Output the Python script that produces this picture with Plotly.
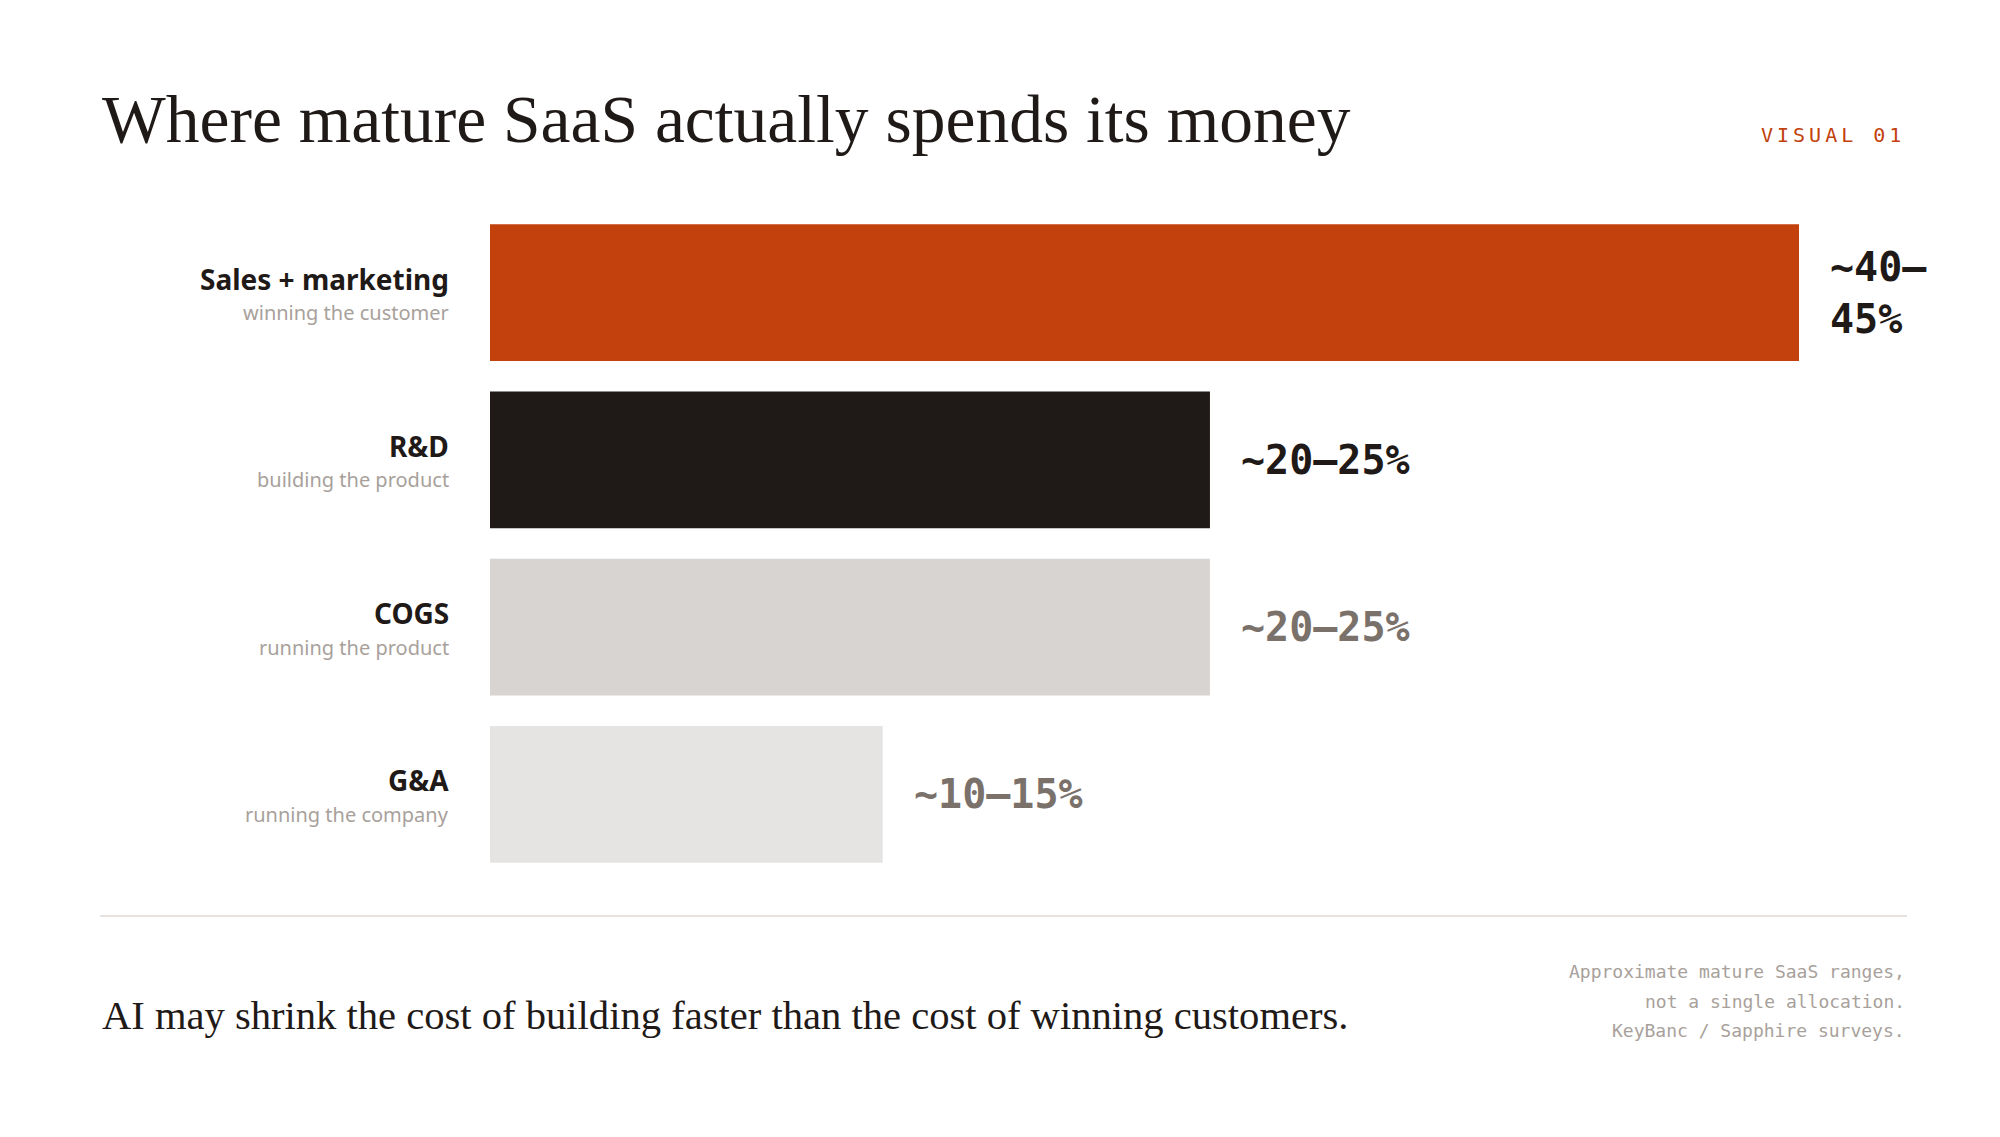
import plotly.graph_objects as go

# data
categories = ["Sales + marketing", "R&D", "COGS", "G&A"]
subtitles = ["winning the customer", "building the product", "running the product", "running the company"]
bar_length = [100, 55, 55, 30]  # relative bar width, sales = 100
value_labels = ["~40–<br>45%", "~20–25%", "~20–25%", "~10–15%"]
footnote_lines = ["Approximate mature SaaS ranges,", "not a single allocation.", "KeyBanc / Sapphire surveys."]

bar_colors = ["#c2410c", "#1f1a17", "#d8d4d1", "#e5e4e2"]
value_colors = ["#1f1a17", "#1f1a17", "#7a716b", "#7a716b"]

# page is 2000x1137, the plot div sits at the body's 8px margin
PAD = 8
W, H = 2000 - 2 * PAD, 1137 - 2 * PAD
INK = "#1f1a17"
MUTED = "#a8a19b"
SERIF = "Liberation Serif"
SANS = "Noto Sans"
MONO = "DejaVu Sans Mono"


def px_x(p):
    # page pixel from left -> paper x
    return (p - PAD) / W


def px_y(p):
    # page pixel from top -> paper y
    return 1 - (p - PAD) / H


fig = go.Figure(
    go.Bar(
        x=bar_length,
        y=categories,
        orientation="h",
        marker=dict(color=bar_colors, line=dict(width=0)),
        hoverinfo="skip",
    )
)

annotations = []

# category labels + subtitles
for cat, sub in zip(categories, subtitles):
    annotations.append(dict(
        x=px_x(451), xref="paper", xanchor="right",
        y=cat, yref="y", yanchor="middle", yshift=14,
        text=f"<b>{cat}</b>", showarrow=False,
        font=dict(family=SANS, size=28, color=INK),
    ))
    annotations.append(dict(
        x=px_x(451), xref="paper", xanchor="right",
        y=cat, yref="y", yanchor="middle", yshift=-20,
        text=sub, showarrow=False,
        font=dict(family=SANS, size=20, color=MUTED),
    ))

# value labels
for cat, val, lab, col in zip(categories, bar_length, value_labels, value_colors):
    annotations.append(dict(
        x=val, xref="x", xanchor="left", xshift=29,
        y=cat, yref="y", yanchor="middle",
        text=f"<b>{lab}</b>", showarrow=False, align="left",
        font=dict(family=MONO, size=40, color=col),
    ))

# title
annotations.append(dict(
    x=px_x(100), xref="paper", xanchor="left",
    y=px_y(120), yref="paper", yanchor="middle",
    text="Where mature SaaS actually spends its money", showarrow=False,
    font=dict(family=SERIF, size=67.5, color=INK),
))
annotations.append(dict(
    x=px_x(1907), xref="paper", xanchor="right",
    y=px_y(135), yref="paper", yanchor="middle",
    text='<span style="letter-spacing:4px">VISUAL 01</span>', showarrow=False,
    font=dict(family=MONO, size=20, color="#c2410c"),
))

# footer
annotations.append(dict(
    x=px_x(100), xref="paper", xanchor="left",
    y=px_y(1015), yref="paper", yanchor="middle",
    text="AI may shrink the cost of building faster than the cost of winning customers.",
    showarrow=False,
    font=dict(family=SERIF, size=40.6, color=INK),
))
for i, line in enumerate(footnote_lines):
    annotations.append(dict(
        x=px_x(1907), xref="paper", xanchor="right",
        y=px_y(972 + 29 * i), yref="paper", yanchor="middle",
        text=line, showarrow=False,
        font=dict(family=MONO, size=18, color=MUTED),
    ))

fig.update_layout(
    width=W, height=H,
    margin=dict(l=0, r=0, t=0, b=0),
    paper_bgcolor="white", plot_bgcolor="white",
    showlegend=False,
    bargap=0.183,
    annotations=annotations,
    shapes=[dict(
        type="line", xref="paper", yref="paper",
        x0=px_x(100), x1=px_x(1907), y0=px_y(916), y1=px_y(916),
        line=dict(color="#e5e2df", width=2),
    )],
    xaxis=dict(
        domain=[px_x(490), px_x(1799)], range=[0, 100],
        showgrid=False, zeroline=False, showticklabels=False, fixedrange=True,
    ),
    yaxis=dict(
        domain=[px_y(878), px_y(209)], range=[3.5, -0.5],
        showgrid=False, zeroline=False, showticklabels=False, fixedrange=True,
    ),
)

fig.write_html("out.html")
